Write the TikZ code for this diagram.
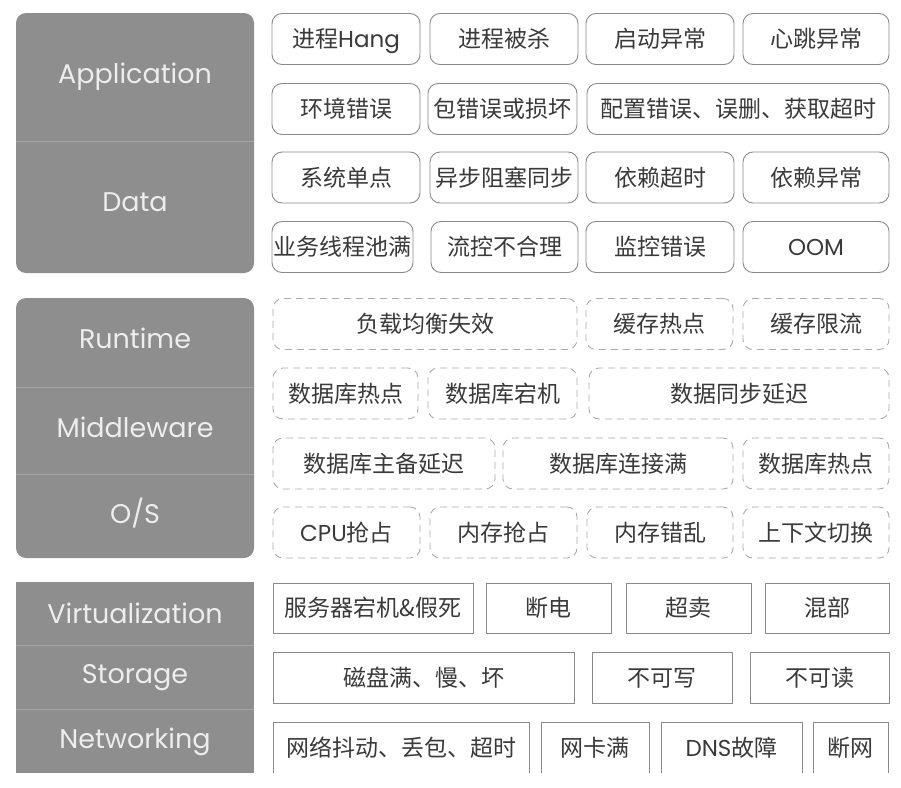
\documentclass[tikz,border=0pt]{standalone}
\usepackage{fontspec}
\setmainfont{Poppins}
\newfontfamily\cjk{Noto Sans CJK SC}
\newfontfamily\lat{Poppins}
\usetikzlibrary{positioning}
\definecolor{panelgray}{HTML}{8E8E8E}
\definecolor{dividergray}{HTML}{A4A4A4}
\definecolor{boxline}{HTML}{8A8A8A}
\definecolor{dashline}{HTML}{ABABAB}
\definecolor{textgray}{HTML}{3A3A3A}

\begin{document}
\begin{tikzpicture}[x=1pt, y=-1pt,
    layername/.style={text=white!93!black, font=\fontsize{27}{32}\selectfont, anchor=base, inner sep=0pt},
    divider/.style={draw=dividergray, line width=0.8pt},
    fault/.style={draw=boxline, line width=0.9pt, text=textgray, font=\fontsize{23}{27}\selectfont\cjk,
        inner sep=0pt, text height=19.5pt, text depth=2pt, minimum height=51pt},
    roundfault/.style={fault, rounded corners=10pt},
    dashfault/.style={fault, draw=dashline, rounded corners=10pt, dash pattern=on 7pt off 5pt},
    sqfault/.style={fault}]
    \useasboundingbox (0,0) rectangle (901,787);
    \fill[white] (0,0) rectangle (901,787);

    % Application / Data
    \fill[panelgray, rounded corners=10pt] (16,13) rectangle (254,273);
    \draw[divider] (16,141) -- (254,141);
    \node[layername] (app) at (135,83) {Application};
    \node[layername] (data) at (135,211) {Data};

    \node[roundfault, minimum width=148pt] (hang) at (346,39) {进程{\lat Hang}};
    \node[roundfault, minimum width=148pt] (killed) at (504,39) {进程被杀};
    \node[roundfault, minimum width=148pt] (bootfail) at (660,39) {启动异常};
    \node[roundfault, minimum width=146pt] (heartbeat) at (816,39) {心跳异常};
    \node[roundfault, minimum width=148pt] (envfault) at (346,109) {环境错误};
    \node[roundfault, minimum width=149pt] (pkgfault) at (502.5,109) {包错误或损坏};
    \node[roundfault, minimum width=302pt] (cfgfault) at (738,109) {配置错误、误删、获取超时};
    \node[roundfault, minimum width=148pt] (spof) at (346,177.5) {系统单点};
    \node[roundfault, minimum width=148pt] (asyncblock) at (504,177.5) {异步阻塞同步};
    \node[roundfault, minimum width=148pt] (deptimeout) at (660,177.5) {依赖超时};
    \node[roundfault, minimum width=146pt] (depfault) at (816,177.5) {依赖异常};
    \node[roundfault, minimum width=141pt] (poolfull) at (342.5,247) {业务线程池满};
    \node[roundfault, minimum width=147pt] (flowctl) at (504.5,247) {流控不合理};
    \node[roundfault, minimum width=148pt] (monfault) at (660,247) {监控错误};
    \node[roundfault, minimum width=146pt] (oom) at (816,247) {\lat OOM};

    % Runtime / Middleware / O/S
    \fill[panelgray, rounded corners=10pt] (16,298) rectangle (254,558);
    \draw[divider] (16,387) -- (254,387);
    \draw[divider] (16,474) -- (254,474);
    \node[layername] (runtime) at (135,348) {Runtime};
    \node[layername] (mw) at (135,437) {Middleware};
    \node[layername] (os) at (135,523) {O/S};

    \node[dashfault, minimum width=304pt] (lbfail) at (425,324) {负载均衡失效};
    \node[dashfault, minimum width=147pt] (cachehot) at (659.5,324) {缓存热点};
    \node[dashfault, minimum width=146pt] (cachelimit) at (816,324) {缓存限流};
    \node[dashfault, minimum width=145pt] (dbhot) at (345.5,393.5) {数据库热点};
    \node[dashfault, minimum width=149pt] (dbdown) at (502.5,393.5) {数据库宕机};
    \node[dashfault, minimum width=300pt] (syncdelay) at (739,393.5) {数据同步延迟};
    \node[dashfault, minimum width=222pt] (replag) at (384,463.5) {数据库主备延迟};
    \node[dashfault, minimum width=230pt] (connfull) at (618,463.5) {数据库连接满};
    \node[dashfault, minimum width=146pt] (dbhotb) at (816,463.5) {数据库热点};
    \node[dashfault, minimum width=147pt] (cpupre) at (346.5,532.5) {{\lat CPU}抢占};
    \node[dashfault, minimum width=147pt] (mempre) at (503.5,532.5) {内存抢占};
    \node[dashfault, minimum width=146pt] (memchaos) at (660,532.5) {内存错乱};
    \node[dashfault, minimum width=146pt] (ctxswitch) at (816,532.5) {上下文切换};

    % Virtualization / Storage / Networking
    \begin{scope}
      \clip (0,0) rectangle (901,772);
      \fill[panelgray] (16,582) rectangle (254,790);
      \draw[divider] (16,645) -- (254,645);
      \draw[divider] (16,709) -- (254,709);
      \node[layername] (virt) at (135,623) {Virtualization};
      \node[layername] (storage) at (135,683) {Storage};
      \node[layername] (net) at (135,748) {Networking};

      \node[sqfault, minimum width=200pt, minimum height=50pt] (srvdown) at (373,608) {服务器宕机\&假死};
      \node[sqfault, minimum width=125pt, minimum height=50pt] (powerout) at (548.5,608) {断电};
      \node[sqfault, minimum width=125pt, minimum height=50pt] (oversell) at (688.5,608) {超卖};
      \node[sqfault, minimum width=124pt, minimum height=50pt] (colocate) at (827,608) {混部};
      \node[sqfault, minimum width=301pt] (diskfault) at (423.5,677.5) {磁盘满、慢、坏};
      \node[sqfault, minimum width=140pt] (nowrite) at (662,677.5) {不可写};
      \node[sqfault, minimum width=139pt] (noread) at (819.5,677.5) {不可读};
      \node[sqfault, minimum width=256pt] (netjitter) at (401,747.5) {网络抖动、丢包、超时};
      \node[sqfault, minimum width=108pt] (nicfull) at (595,747.5) {网卡满};
      \node[sqfault, minimum width=141pt] (dnsfault) at (731.5,747.5) {{\lat DNS}故障};
      \node[sqfault, minimum width=75pt] (netdown) at (850.5,747.5) {断网};
    \end{scope}
\end{tikzpicture}
\end{document}
